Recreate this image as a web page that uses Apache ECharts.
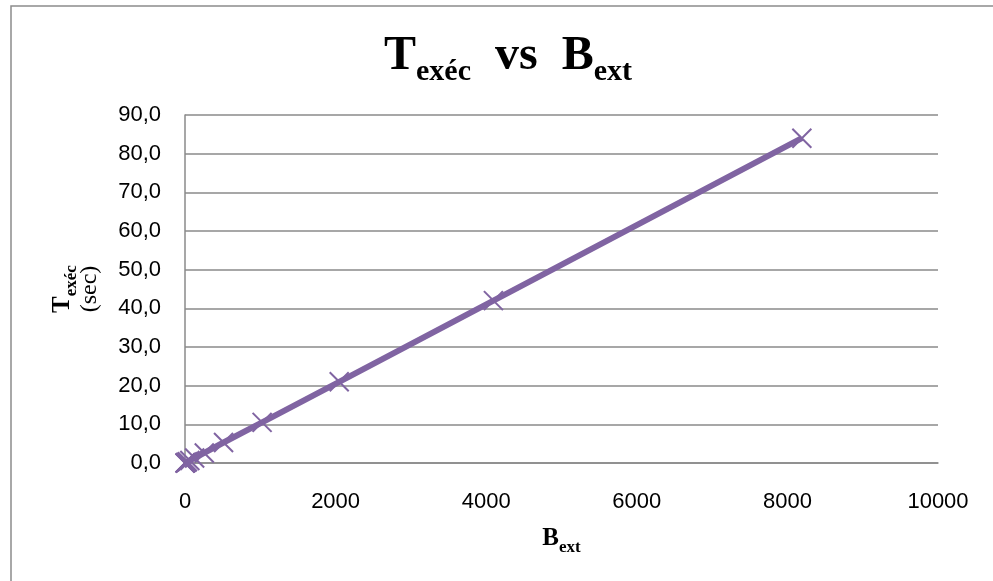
<!DOCTYPE html>
<html>
<head>
<meta charset="utf-8">
<title>Texéc vs Bext</title>
<script src="https://cdn.jsdelivr.net/npm/echarts@6/dist/echarts.min.js"></script>
<style>
  html, body { margin: 0; padding: 0; background: #ffffff; }
  #chart { width: 993px; height: 581px; }
</style>
</head>
<body>
<div id="chart"></div>
<script>
// Buffer sizes (B_ext) and measured execution times in seconds
const bExt = [1, 2, 4, 8, 16, 32, 64, 128, 256, 512, 1024, 2048, 4096, 8192];
const tExec = [0.01, 0.02, 0.04, 0.08, 0.16, 0.33, 0.66, 1.3, 2.6, 5.3, 10.5, 21.0, 42.0, 84.0];

// Axis ranges and tick steps
const xRange = [0, 10000];
const xStep = 2000;
const yRange = [0, 90];
const yStep = 10;

const purple = '#8064A2';
const gridGray = '#8a8a8a';
const serif = '"Liberation Serif", "Times New Roman", serif';
const sans = '"Liberation Sans", Arial, sans-serif';

const points = bExt.map((b, i) => [b, tExec[i]]);

const chart = echarts.init(document.getElementById('chart'), null, { renderer: 'canvas' });

chart.setOption({
  backgroundColor: '#ffffff',
  animation: false,
  title: {
    text: '{m|T}{s|exéc}{m|  vs  B}{s|ext}',
    left: 384,
    top: 30,
    padding: 0,
    textStyle: {
      rich: {
        m: { fontFamily: serif, fontWeight: 'bold', fontSize: 48, lineHeight: 54, color: '#000' },
        s: { fontFamily: serif, fontWeight: 'bold', fontSize: 30, lineHeight: 34, color: '#000', padding: [30, 0, 0, 0] }
      }
    }
  },
  graphic: [{
    type: 'rect',
    silent: true,
    shape: { x: 11, y: 6, width: 1200, height: 800 },
    style: { fill: 'none', stroke: '#8c8c8c', lineWidth: 1.5 }
  }],
  grid: { left: 185, right: 55, top: 115, bottom: 118, containLabel: false },
  xAxis: {
    type: 'value',
    min: xRange[0],
    max: xRange[1],
    interval: xStep,
    name: '{b|B}{bs|ext}',
    nameLocation: 'middle',
    nameGap: 62,
    nameTextStyle: {
      rich: {
        b: { fontFamily: serif, fontWeight: 'bold', fontSize: 25, lineHeight: 28, color: '#000' },
        bs: { fontFamily: serif, fontWeight: 'bold', fontSize: 17, lineHeight: 20, color: '#000', padding: [17, 0, 0, 0] }
      }
    },
    axisLine: { show: true, lineStyle: { color: gridGray, width: 1.5 } },
    axisTick: { show: false },
    splitLine: { show: false },
    axisLabel: {
      margin: 28,
      fontFamily: sans,
      fontSize: 22,
      color: '#000',
      formatter: v => String(v)
    }
  },
  yAxis: {
    type: 'value',
    min: yRange[0],
    max: yRange[1],
    interval: yStep,
    name: '{b|T}{bs|exéc}\n{r|(sec)}',
    nameLocation: 'middle',
    nameGap: 82,
    nameTextStyle: {
      rich: {
        b: { fontFamily: serif, fontWeight: 'bold', fontSize: 25, lineHeight: 28, color: '#000' },
        bs: { fontFamily: serif, fontWeight: 'bold', fontSize: 17, lineHeight: 20, color: '#000', padding: [17, 0, 0, 0] },
        r: { fontFamily: serif, fontSize: 24, lineHeight: 26, color: '#000' }
      }
    },
    axisLine: { show: true, lineStyle: { color: gridGray, width: 1.5 } },
    axisTick: { show: false },
    splitLine: { show: true, lineStyle: { color: gridGray, width: 1.5 } },
    axisLabel: {
      margin: 24,
      fontFamily: sans,
      fontSize: 22,
      color: '#000',
      formatter: v => v.toFixed(1).replace('.', ',')
    }
  },
  series: [{
    type: 'line',
    data: points,
    showSymbol: true,
    symbol: 'path://M0,0L10,10M10,0L0,10',
    symbolSize: 19,
    itemStyle: { color: 'none', borderColor: purple, borderWidth: 2 },
    lineStyle: { color: purple, width: 6 },
    emphasis: { disabled: true }
  }]
});
</script>
</body>
</html>
